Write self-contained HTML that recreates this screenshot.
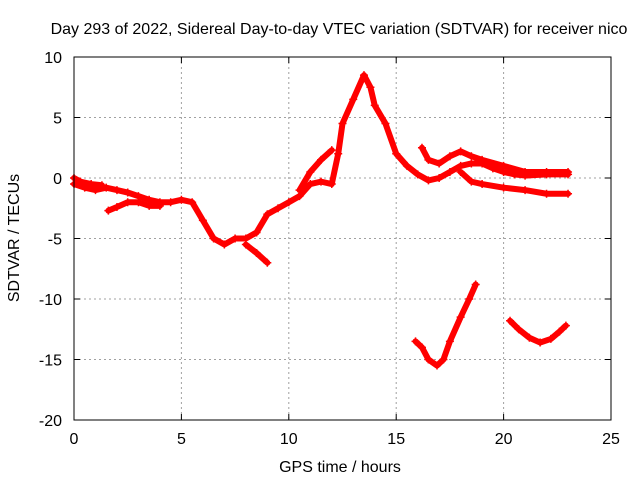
<!DOCTYPE html>
<html><head><meta charset="utf-8"><style>body{margin:0;background:#fff}svg{display:block}text{font-family:"Liberation Sans",sans-serif;font-size:16px}</style></head>
<body>
<svg id="chart" width="640" height="480">
<rect width="640" height="480" fill="#fff"/>
<text x="339" y="34" text-anchor="middle">Day 293 of 2022, Sidereal Day-to-day VTEC variation (SDTVAR) for receiver nico</text>
<text x="340" y="472" text-anchor="middle">GPS time / hours</text>
<text transform="translate(19,238) rotate(-90)" text-anchor="middle">SDTVAR / TECUs</text>
<g id="grid"></g><g id="series"></g>
<rect x="74" y="57" width="537" height="363" fill="none" stroke="#000"/>
</svg>
<script>
const xTicks=[0,5,10,15,20,25];
const yTicks=[10,5,0,-5,-10,-15,-20];
const segA=[[0,-0.5],[0.5,-0.8],[1,-1],[1.5,-0.8],[2,-1],[2.5,-1.2],[3,-1.5],[3.5,-1.8],[4,-2],[4.5,-2],[5,-1.8],[5.5,-2],[6,-3.5],[6.5,-5],[7,-5.5],[7.5,-5],[8,-5],[8.5,-4.5],[9,-3],[9.5,-2.5],[10,-2],[10.5,-1.5],[11,-0.5],[11.5,-0.3],[12,-0.5],[12.3,2],[12.5,4.5],[13,6.5],[13.5,8.5],[13.8,7.5],[14,6],[14.5,4.5],[15,2],[15.5,1],[16,0.3],[16.5,-0.2],[17,0],[17.5,0.5],[18,1],[18.5,1.2],[19,1.2],[19.5,0.8],[20,0.5],[20.5,0.3],[21,0.2],[22,0.3],[23,0.3]];
const segB=[[0,0],[0.3,-0.3],[0.8,-0.5],[1.3,-0.6]];
const segC=[[1.6,-2.7],[2,-2.4],[2.5,-2],[3,-2],[3.5,-2.3],[4,-2.3]];
const segD=[[8,-5.5],[8.5,-6.2],[9,-7]];
const segE=[[10.5,-1],[11,0.5],[11.5,1.5],[12,2.3]];
const segF=[[16.2,2.5],[16.5,1.5],[17,1.2],[17.5,1.8],[18,2.2],[18.5,1.8],[19,1.5],[20,1],[21,0.5],[22,0.5],[23,0.5]];
const segG=[[18,0.5],[18.5,-0.3],[19,-0.5],[20,-0.8],[21,-1],[22,-1.3],[23,-1.3]];
const segH=[[15.9,-13.5],[16.2,-14],[16.5,-15],[16.9,-15.5],[17.2,-15],[17.5,-13.5],[18,-11.5],[18.4,-10],[18.7,-8.8]];
const segI=[[20.3,-11.8],[20.7,-12.5],[21.2,-13.2],[21.7,-13.6],[22.2,-13.3],[22.6,-12.7],[22.9,-12.2]];
const segments=[segA,segB,segC,segD,segE,segF,segG,segH,segI];
const NS='http://www.w3.org/2000/svg';
const X=v=>74+v*537/25, Y=v=>178-v*12.1;
const grid=document.getElementById('grid'), ser=document.getElementById('series');
function mk(tag,at,p){const e=document.createElementNS(NS,tag);for(const k in at)e.setAttribute(k,at[k]);p.appendChild(e);return e;}
xTicks.forEach(t=>{
 if(t>0&&t<25){const l=mk('line',{x1:X(t),x2:X(t),y1:57,y2:420,stroke:'#a0a0a0','stroke-dasharray':'2,3'},grid);
 
 }
 mk('line',{x1:X(t),x2:X(t),y1:420,y2:414,stroke:'#000'},grid);
 mk('line',{x1:X(t),x2:X(t),y1:57,y2:63,stroke:'#000'},grid);
 const tx=mk('text',{x:X(t),y:444,'text-anchor':'middle'},grid);tx.textContent=t;
 
 
});
yTicks.forEach(t=>{
 if(t<10&&t>-20){const l=mk('line',{x1:74,x2:611,y1:Y(t),y2:Y(t),stroke:'#a0a0a0','stroke-dasharray':'2,3'},grid);
 
 }
 mk('line',{x1:74,x2:80,y1:Y(t),y2:Y(t),stroke:'#000'},grid);
 mk('line',{x1:605,x2:611,y1:Y(t),y2:Y(t),stroke:'#000'},grid);
 const tx=mk('text',{x:62,y:Y(t)+6,'text-anchor':'end'},grid);tx.textContent=t;
 
 
});
segments.forEach(s=>{
 const p=mk('polyline',{points:s.map(d=>X(d[0])+','+Y(d[1])).join(' '),fill:'none',stroke:'#f00','stroke-width':6,'stroke-linejoin':'round','stroke-linecap':'round'},ser);
 
 
 s.forEach(d=>{const x=X(d[0]),y=Y(d[1]);
  const m=mk('path',{d:`M${x-4},${y}h8M${x},${y-4}v8`,stroke:'#f00','stroke-width':1.5},ser);
  
  });
});
</script>
</body></html>
